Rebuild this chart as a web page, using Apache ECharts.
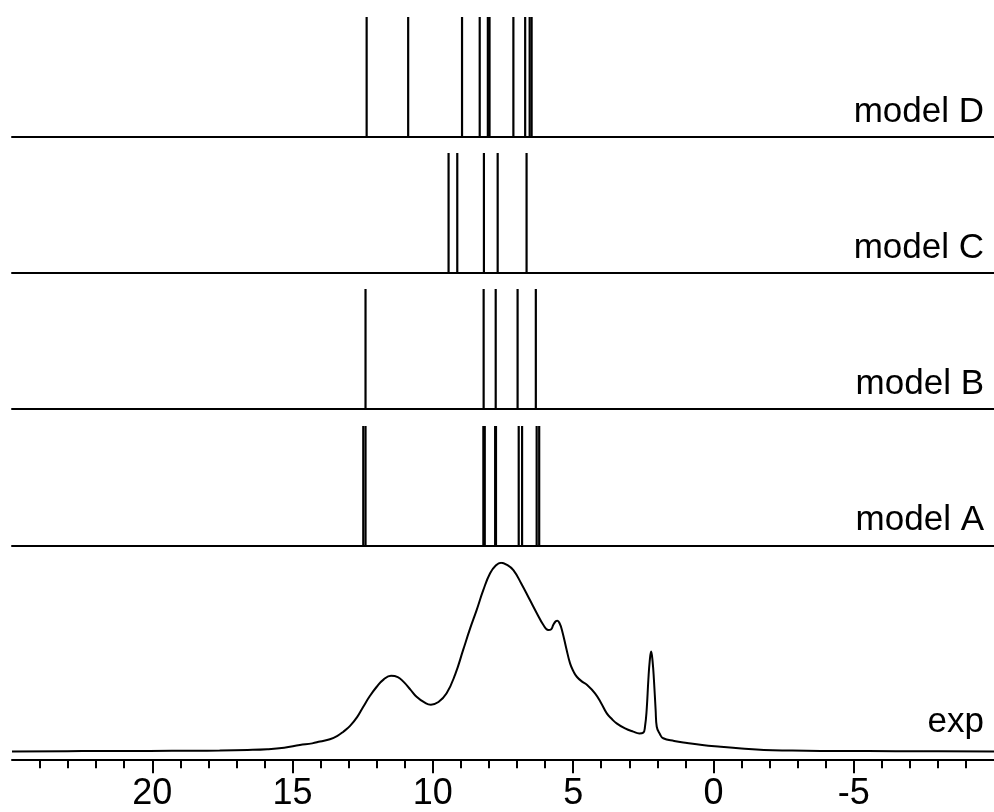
<!DOCTYPE html>
<html>
<head>
<meta charset="utf-8">
<style>
  html, body { margin: 0; padding: 0; background: #fff; }
  #chart { width: 994px; height: 812px; }
</style>
<script src="https://cdn.jsdelivr.net/npm/echarts@6/dist/echarts.min.js"></script>
</head>
<body>
<div id="chart"></div>
<script>
// Chemical shift axis (ppm), drawn high-to-low
const ppmMin = -10;
const ppmMax = 25;
const majorTicks = [20, 15, 10, 5, 0, -5];
const minorTicks = [24, 23, 22, 21, 19, 18, 17, 16, 14, 13, 12, 11, 9, 8, 7, 6, 4, 3, 2, 1,
                    -1, -2, -3, -4, -6, -7, -8, -9];

// Calculated shifts (ppm) for each model, shown as stick spectra
const panelNames = ['model D', 'model C', 'model B', 'model A'];
const modelD = [12.36, 10.88, 8.96, 8.33, 8.04, 7.98, 7.13, 6.71, 6.55, 6.48];
const modelC = [9.44, 9.13, 8.18, 7.69, 6.66];
const modelB = [12.40, 8.19, 7.76, 6.98, 6.33];
const modelA = [12.48, 12.40, 8.20, 8.15, 7.78, 7.75, 6.94, 6.82, 6.30, 6.21];

// Experimental spectrum: shift (ppm) and relative intensity (max = 100)
const expShift = [25.0, 22.5, 20.1, 18.5, 17.6, 16.6, 15.9, 15.3, 14.74, 14.3, 14.02, 13.67,
  13.4, 13.19, 12.95, 12.7, 12.48, 12.24, 12.0, 11.75, 11.49, 11.25, 11.05, 10.8, 10.58,
  10.3, 10.07, 9.8, 9.51, 9.2, 8.92, 8.68, 8.44, 8.2, 7.96, 7.75, 7.57, 7.35, 7.13, 6.85,
  6.54, 6.3, 6.06, 5.89, 5.78, 5.71, 5.62, 5.56, 5.48, 5.40, 5.25, 5.11, 4.98, 4.87, 4.68,
  4.50, 4.22, 4.0, 3.80, 3.62, 3.45, 3.15, 2.86, 2.64, 2.50, 2.44, 2.38, 2.32, 2.27, 2.22,
  2.17, 2.12, 2.06, 2.02, 1.90, 1.79, 1.40, 0.94, 0.40, -0.26, -1.0, -1.80, -2.8, -3.82,
  -5.5, -7.5, -10.0];
const expInt = [0.0, 0.2, 0.3, 0.4, 0.5, 0.8, 1.2, 2.0, 3.4, 4.3, 5.3, 6.5,
  8.3, 10.5, 13.6, 18.2, 23.7, 29.5, 34.3, 38.2, 40.1, 39.4, 37.0, 32.8, 29.0,
  26.0, 24.8, 26.2, 30.8, 41.0, 53.8, 64.8, 74.9, 85.6, 94.4, 98.6, 100, 98.8, 96.1, 89.0,
  80.2, 73.4, 67.0, 64.4, 64.8, 67.0, 69.0, 69.3, 67.8, 64.4, 55.0, 46.7, 42.2, 39.6, 37.0,
  35.2, 30.8, 25.6, 20.2, 17.2, 14.9, 12.2, 10.5, 9.6, 10.0, 13.1, 22.0, 37.9, 48.0, 52.9,
  48.0, 37.9, 22.0, 13.1, 9.0, 7.0, 5.6, 4.5, 3.4, 2.5, 1.6, 0.8, 0.5, 0.3,
  0.2, 0.1, 0.0];

const FONT = "'Liberation Sans', Arial, Helvetica, sans-serif";
const INK = '#000';

// Panel placement in pixels: [top, baseline]
const panels = [
  [17, 137],
  [153, 273],
  [289, 409],
  [426, 546]
];
const H = 812;
const expTop = 562.7;
const expAxisY = 759.3;
const expBaseY = 751.5;

const stickSets = [modelD, modelC, modelB, modelA];

const grids = [];
const xAxes = [];
const yAxes = [];
const series = [];

function makeGrid(top, bottom) {
  return { left: 12, right: 0, top: top, bottom: bottom, outerBoundsMode: 'none', containLabel: false };
}
function baseX(gridIndex) {
  return {
    type: 'value', gridIndex: gridIndex, min: ppmMin, max: ppmMax, inverse: true,
    position: 'bottom',
    axisLine: { show: true, onZero: false, lineStyle: { color: INK, width: 2 } },
    axisTick: { show: false }, axisLabel: { show: false }, splitLine: { show: false }
  };
}
function baseY(gridIndex, min, max) {
  return {
    type: 'value', gridIndex: gridIndex, min: min, max: max, show: false,
    splitLine: { show: false }
  };
}

function renderStick(params, api) {
  const x = api.value(0);
  const h = api.value(1);
  const p0 = api.coord([x, 0]);
  const p1 = api.coord([x, h]);
  return {
    type: 'line',
    shape: { x1: p0[0], y1: p0[1], x2: p1[0], y2: p1[1] },
    style: { stroke: INK, lineWidth: 2.2 }
  };
}

stickSets.forEach(function (set, i) {
  grids.push(makeGrid(panels[i][0], H - panels[i][1]));
  xAxes.push(baseX(i));
  yAxes.push(baseY(i, 0, 1));
  series.push({
    type: 'custom', xAxisIndex: i, yAxisIndex: i,
    renderItem: renderStick,
    data: set.map(function (v) { return [v, 1]; }),
    silent: true, clip: false
  });
});

// Experimental panel with the visible shift axis
const expIdx = 4;
const yRange = (expBaseY - expTop);
grids.push(makeGrid(expTop, H - expAxisY));
const mainX = baseX(expIdx);
mainX.axisTick = { show: true, customValues: majorTicks, length: 14, lineStyle: { color: INK, width: 2 } };
mainX.axisLabel = {
  show: true, customValues: majorTicks, margin: 17,
  fontFamily: FONT, fontSize: 36, color: INK
};
xAxes.push(mainX);
const minorX = baseX(expIdx);
minorX.axisLine = { show: false, onZero: false };
minorX.axisTick = { show: true, customValues: minorTicks, length: 9, lineStyle: { color: INK, width: 2 } };
xAxes.push(minorX);
yAxes.push(baseY(expIdx, -(expAxisY - expBaseY) / yRange * 100, 100));

series.push({
  type: 'line', xAxisIndex: expIdx, yAxisIndex: expIdx,
  data: expShift.map(function (s, k) { return [s, expInt[k]]; }),
  showSymbol: false, smooth: 0.45,
  lineStyle: { color: INK, width: 2 },
  silent: true, animation: false
});

// Panel captions, right aligned
const labelBaselines = [122.7, 258.7, 394.4, 531.0];
const graphics = panelNames.map(function (name, i) {
  return {
    type: 'text', right: 10, top: labelBaselines[i] - 28,
    style: { text: name, font: '35px ' + FONT, fill: INK }
  };
});
graphics.push({
  type: 'text', right: 10, top: 733.3 - 28,
  style: { text: 'exp', font: '35px ' + FONT, fill: INK }
});

const chart = echarts.init(document.getElementById('chart'), null, { renderer: 'canvas' });
chart.setOption({
  animation: false,
  backgroundColor: '#fff',
  grid: grids,
  xAxis: xAxes,
  yAxis: yAxes,
  series: series,
  graphic: graphics
});
</script>
</body>
</html>
